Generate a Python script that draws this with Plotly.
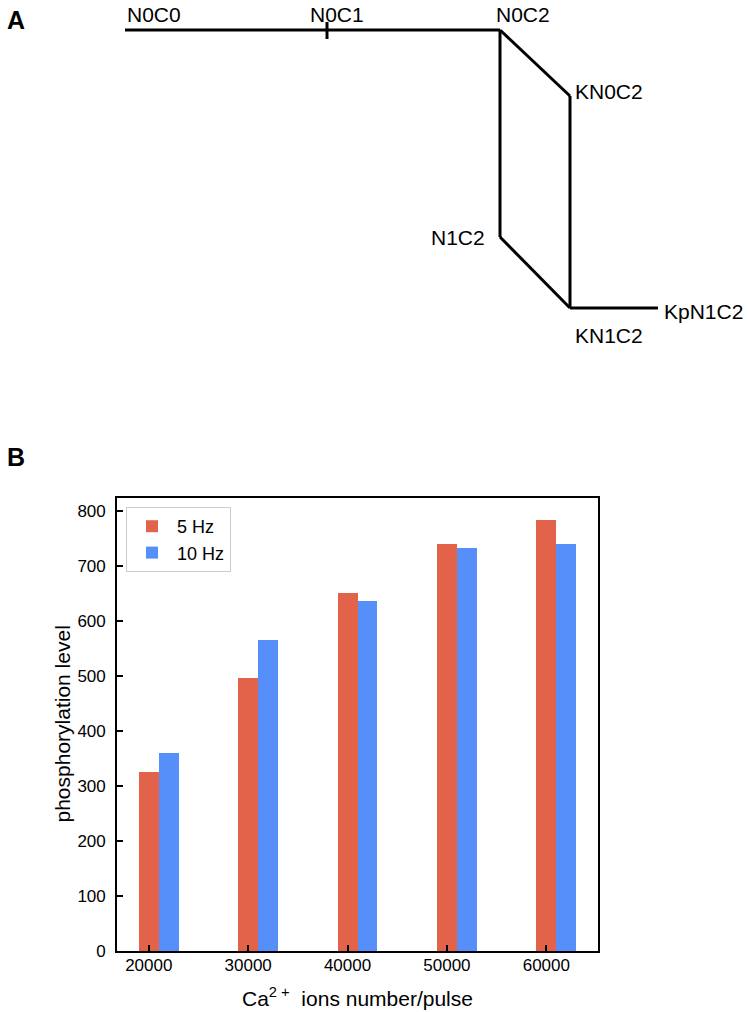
"""Two-panel figure: reaction scheme (A) and phosphorylation level bars (B)."""

import plotly.graph_objects as go

# ---- panel A: scheme nodes and edges ----
node_names = ["N0C0", "N0C1", "N0C2", "KN0C2", "N1C2", "KN1C2", "KpN1C2"]
node_x = [125, 327, 500, 570, 500, 570, 658]
node_y = [30, 30, 30, 96, 237, 308, 308]
edges = [
    ("N0C0", "N0C2"),
    ("N0C2", "KN0C2"),
    ("N0C2", "N1C2"),
    ("KN0C2", "KN1C2"),
    ("N1C2", "KN1C2"),
    ("KN1C2", "KpN1C2"),
]

# ---- panel B: bar data ----
ca_ions = [20000, 30000, 40000, 50000, 60000]
level_5hz = [325, 497, 651, 739, 784]
level_10hz = [359, 565, 636, 732, 740]
y_ticks = [0, 100, 200, 300, 400, 500, 600, 700, 800]

FONT = "Liberation Sans, Arial, Helvetica, sans-serif"
RED = "#E2634A"
BLUE = "#568FFA"

W, H = 750, 1012

fig = go.Figure()

# scheme lines
pos = {n: (x, y) for n, x, y in zip(node_names, node_x, node_y)}
for a, b in edges:
    fig.add_trace(go.Scatter(
        x=[pos[a][0], pos[b][0]], y=[pos[a][1], pos[b][1]],
        mode="lines", line=dict(color="black", width=3),
        xaxis="x2", yaxis="y2", showlegend=False, hoverinfo="skip",
    ))
# small tick marking N0C1 on the main line
fig.add_trace(go.Scatter(
    x=[pos["N0C1"][0], pos["N0C1"][0]], y=[pos["N0C1"][1] - 8, pos["N0C1"][1] + 9],
    mode="lines", line=dict(color="black", width=3),
    xaxis="x2", yaxis="y2", showlegend=False, hoverinfo="skip",
))

# label offsets relative to node (dx, dy, anchor)
label_off = {
    "N0C0": (0, -16, "left"),
    "N0C1": (-19, -16, "left"),
    "N0C2": (-6, -16, "left"),
    "KN0C2": (3, -5, "left"),
    "N1C2": (-13, 0, "right"),
    "KN1C2": (39, 27, "center"),
    "KpN1C2": (4, 3, "left"),
}
for n in node_names:
    dx, dy, anc = label_off[n]
    fig.add_annotation(
        x=pos[n][0] + dx, y=pos[n][1] + dy, xref="x2", yref="y2",
        text=n, showarrow=False, xanchor=anc, yanchor="middle",
        font=dict(family=FONT, size=21, color="black"),
    )

# bars
fig.add_trace(go.Bar(
    x=ca_ions, y=level_5hz, name="5 Hz", width=2000, offset=-1000,
    marker=dict(color=RED, line=dict(width=0)),
))
fig.add_trace(go.Bar(
    x=ca_ions, y=level_10hz, name="10 Hz", width=2000, offset=1000,
    marker=dict(color=BLUE, line=dict(width=0)),
))

x0, x1 = 117 / W, 598 / W
y0, y1 = 1 - 951 / H, 1 - 498 / H

axis_common = dict(
    showline=True, linecolor="black", linewidth=1.7, mirror=True,
    ticks="inside", ticklen=6, tickwidth=1.5, tickcolor="black",
    showgrid=False, zeroline=False, automargin=False,
    tickfont=dict(family=FONT, size=17, color="black"),
)

fig.update_layout(
    width=W, height=H,
    margin=dict(l=0, r=0, t=0, b=0),
    paper_bgcolor="white", plot_bgcolor="white",
    barmode="overlay", bargap=0,
    font=dict(family=FONT, color="black"),
    xaxis=dict(domain=[x0, x1], range=[16800, 65200], tickvals=ca_ions,
               tickformat="d", ticklabelstandoff=-2, **axis_common),
    yaxis=dict(domain=[y0, y1], range=[0, 823.2], tickvals=y_ticks,
               ticklabelstandoff=6, **axis_common),
    xaxis2=dict(domain=[0, 1], range=[0, W], visible=False, anchor="y2"),
    yaxis2=dict(domain=[1 - 360 / H, 1], range=[360, 0], visible=False, anchor="x2"),
    legend=dict(
        x=126 / W, y=1 - 507 / H, xanchor="left", yanchor="top",
        bgcolor="rgba(255,255,255,0.8)", bordercolor="#cccccc", borderwidth=1,
        font=dict(family=FONT, size=18, color="black"),
        itemwidth=40,
    ),
    showlegend=True,
)

# axis titles
fig.add_annotation(
    x=(x0 + x1) / 2, y=1 - 997 / H, xref="paper", yref="paper",
    text="Ca<sup>2 +</sup>  ions number/pulse", showarrow=False,
    xanchor="center", yanchor="middle",
    font=dict(family=FONT, size=21, color="black"),
)
fig.add_annotation(
    x=62 / W, y=(y0 + y1) / 2, xref="paper", yref="paper",
    text="phosphorylation level", showarrow=False, textangle=-90,
    xanchor="center", yanchor="middle",
    font=dict(family=FONT, size=21, color="black"),
)

# panel letters
for letter, ly in [("A", 20), ("B", 457)]:
    fig.add_annotation(
        x=16 / W, y=1 - ly / H, xref="paper", yref="paper",
        text=f"<b>{letter}</b>", showarrow=False,
        xanchor="center", yanchor="middle",
        font=dict(family=FONT, size=25, color="black"),
    )

# drop the browser's default body margin so the figure sits at the page origin
fig.write_html(
    "out.html",
    config={"displayModeBar": False},
    post_script="document.body.style.margin='0';",
)
